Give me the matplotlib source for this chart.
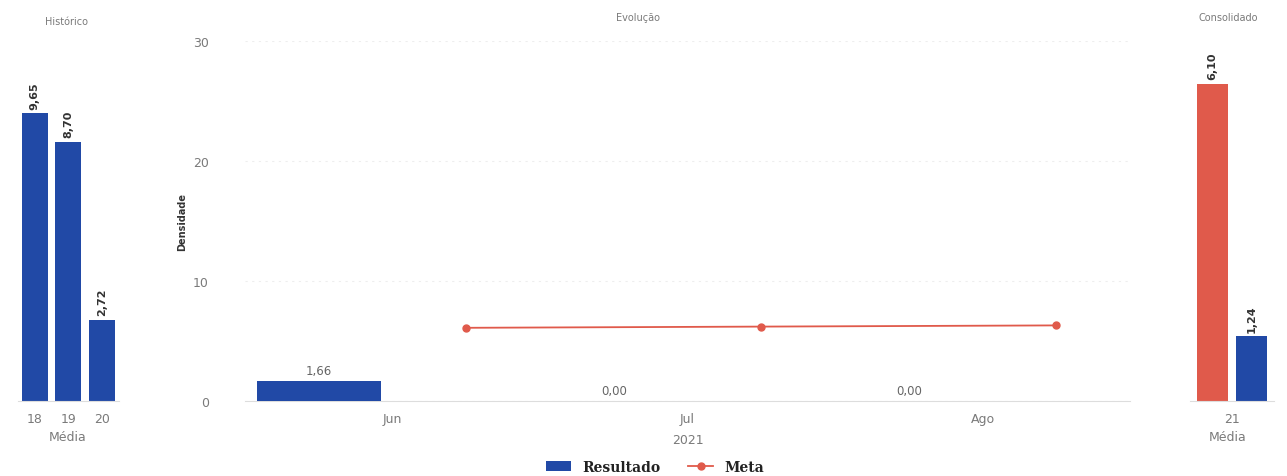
import matplotlib.pyplot as plt
import numpy as np

# Histórico
hist_years = ["18", "19", "20"]
hist_values = [9.65, 8.70, 2.72]

# Evolução
months = ["Jun", "Jul", "Ago"]
resultado = [1.66, 0.00, 0.00]
meta = [6.10, 6.20, 6.30]

# Consolidado
cons_year = ["21"]
cons_meta = [6.10]
cons_resultado = [1.24]

BLUE = "#2149a6"
RED = "#e05a4b"
TICK = "#7a7a7a"
LABEL = "#333333"


def fmt(v):
    return f"{v:.2f}".replace(".", ",")


def clean(ax):
    for s in ["top", "right", "left"]:
        ax.spines[s].set_visible(False)
    ax.spines["bottom"].set_color("#dddddd")
    ax.tick_params(length=0, colors=TICK, labelsize=9, pad=8)


fig = plt.figure(figsize=(12.87, 4.77), dpi=100)
W, H = 1287, 477


def axes_px(x0, x1, y_top, y_base):
    return fig.add_axes([x0 / W, 1 - y_base / H, (x1 - x0) / W, (y_base - y_top) / H])


# left panel
ax1 = axes_px(18, 118.5, 42, 402)
x1 = np.arange(len(hist_years))
ax1.bar(x1, hist_values, width=0.78, color=BLUE)
for xi, v in zip(x1, hist_values):
    ax1.text(xi, v + 0.15, fmt(v), rotation=90, ha="center", va="bottom",
             fontsize=8, color=LABEL, fontweight="bold")
ax1.set_xlim(-0.5, 2.5)
ax1.set_ylim(0, 12.08)
ax1.set_xticks(x1)
ax1.set_xticklabels(hist_years)
ax1.set_yticks([])
clean(ax1)

# middle panel
ax2 = axes_px(245, 1130, 42, 402)
x2 = np.arange(len(months))
ax2.bar(x2 - 0.25, resultado, width=0.42, color=BLUE, label="Resultado", zorder=3)
for xi, v in zip(x2, resultado):
    ax2.text(xi - 0.25, v + 0.3, fmt(v), ha="center", va="bottom",
             fontsize=8.5, color="#666666")
ax2.plot(x2 + 0.25, meta, color=RED, marker="o", markersize=5, linewidth=1.3,
         label="Meta", zorder=4)
ax2.set_xlim(-0.5, 2.5)
ax2.set_ylim(0, 30)
ax2.set_yticks([0, 10, 20, 30])
ax2.set_xticks(x2)
ax2.set_xticklabels(months)
ax2.grid(axis="y", color="#eeeeee", linestyle=(0, (2, 4)), linewidth=0.8)
ax2.set_axisbelow(True)
clean(ax2)
ax2.tick_params(axis="y", pad=26)
ax2.set_xlabel("2021", color=TICK, fontsize=9, labelpad=6)
ax2.set_ylabel("Densidade", fontsize=7, fontweight="bold", color=LABEL, labelpad=4)

# right panel
ax3 = axes_px(1190, 1274, 42, 402)
x3 = np.arange(len(cons_year))
ax3.bar(x3 - 0.23, cons_meta, width=0.37, color=RED)
ax3.bar(x3 + 0.23, cons_resultado, width=0.37, color=BLUE)
for xi, v in zip(x3 - 0.23, cons_meta):
    ax3.text(xi, v + 0.08, fmt(v), rotation=90, ha="center", va="bottom",
             fontsize=8, color=LABEL, fontweight="bold")
for xi, v in zip(x3 + 0.23, cons_resultado):
    ax3.text(xi, v + 0.08, fmt(v), rotation=90, ha="center", va="bottom",
             fontsize=8, color=LABEL, fontweight="bold")
ax3.set_xlim(-0.5, 0.5)
ax3.set_ylim(0, 6.92)
ax3.set_xticks(x3)
ax3.set_xticklabels(cons_year)
ax3.set_yticks([])
clean(ax3)

# titles and sub-labels
fig.text(67 / W, 1 - 22 / H, "Histórico", ha="center", va="center", fontsize=7, color=TICK)
fig.text(638 / W, 1 - 18 / H, "Evolução", ha="center", va="center", fontsize=7, color=TICK)
fig.text(1228 / W, 1 - 18 / H, "Consolidado", ha="center", va="center", fontsize=7, color=TICK)
fig.text(68 / W, 1 - 438 / H, "Média", ha="center", va="center", fontsize=9, color=TICK)
fig.text(1228 / W, 1 - 438 / H, "Média", ha="center", va="center", fontsize=9, color=TICK)

handles, labels = ax2.get_legend_handles_labels()
order = [labels.index("Resultado"), labels.index("Meta")]
fig.legend([handles[i] for i in order], [labels[i] for i in order],
           loc="center", bbox_to_anchor=(655 / W, 1 - 468 / H),
           ncol=2, frameon=False, handlelength=1.8, handleheight=0.8,
           columnspacing=2.0, prop={"family": "DejaVu Serif", "weight": "bold", "size": 10},
           labelcolor="#222222")

fig.savefig("out.png", dpi=100, facecolor="white")
